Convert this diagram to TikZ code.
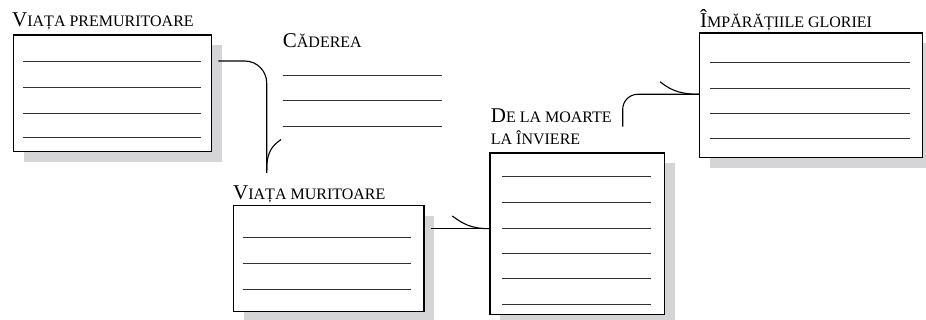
\documentclass[tikz,border=0pt]{standalone}
\usepackage{fontspec}
\setmainfont{Liberation Serif}
\newcommand\bigc[1]{{\fontsize{21}{24}\selectfont #1}}
\newcommand\smc[1]{{\fontsize{16}{20}\selectfont #1}}
\begin{document}
\begin{tikzpicture}[x=1pt,y=-1pt,
  box/.style={draw=black,line width=1.3pt,fill=white,inner sep=0pt,anchor=north west},
  rule/.style={draw=black!80,line width=0.9pt},
  lbl/.style={anchor=base west,inner sep=0pt},
  conn/.style={draw=black,line width=1.1pt},
  barb/.style={draw=black,line width=1.1pt}]
\definecolor{shadowgray}{RGB}{213,213,215}
\useasboundingbox (0,0) rectangle (926,320);
% shadows
\fill[shadowgray] (23.7,45.3) rectangle (222,162);
\fill[shadowgray] (243.7,216) rectangle (434.3,321.7);
\fill[shadowgray] (500.3,163.3) rectangle (675,325);
\fill[shadowgray] (710,43.3) rectangle (932.7,167.7);
% boxes
\node[box,minimum width=198.3pt,minimum height=116.7pt] (b1) at (12.7,34.3) {};
\node[box,minimum width=190.6pt,minimum height=105.7pt] (b2) at (232.7,205) {};
\node[box,minimum width=174.7pt,minimum height=161.7pt] (b3) at (489.3,152.3) {};
\node[box,minimum width=222.7pt,minimum height=124.4pt] (b4) at (699,32.3) {};
% rules in boxes
\foreach \y in {61,87,113,137} \draw[rule] (23,\y) -- (201,\y);
\foreach \y in {237.7,263.7,289} \draw[rule] (242.7,\y) -- (411,\y);
\foreach \y in {176.7,202.7,228.3,253.3,278.7,304.3} \draw[rule] (502.3,\y) -- (651,\y);
\foreach \y in {62.3,88.3,113.7,138.3} \draw[rule] (710,\y) -- (910,\y);
\foreach \y in {75,100.7,126} \draw[rule] (282.7,\y) -- (441.7,\y);
% labels
\node[lbl] (l1) at (12,27) {\bigc{V}\smc{IAȚA PREMURITOARE}};
\node[lbl] (l0) at (282.7,47.7) {\bigc{C}\smc{ĂDEREA}};
\node[lbl] (l2) at (233,200) {\bigc{V}\smc{IAȚA MURITOARE}};
\node[lbl] (l3a) at (490.7,122.7) {\bigc{D}\smc{E LA MOARTE}};
\node[lbl] (l3b) at (490.7,144.3) {\smc{LA ÎNVIERE}};
\node[lbl] (l4) at (700,27.3) {\bigc{Î}\smc{MPĂRĂȚIILE GLORIEI}};
% connectors
\coordinate (c1s) at ([xshift=6pt]b1.east |- 0,61);
\coordinate (c1e) at (266.7,173);
\draw[conn,rounded corners=22pt] (c1s) -- (c1e |- c1s) -- (c1e);
\draw[barb] (c1e) ++(0,-3) .. controls (266.7,152) and (272,146) .. (281,139.5);
\coordinate (c2s) at ([xshift=6pt]b2.east |- 0,228.7);
\coordinate (c2e) at (b3.west |- c2s);
\draw[conn] (c2s) -- (c2e);
\draw[barb] (c2e) .. controls (470,228.7) and (462,223) .. (452.3,216);
\coordinate (c3s) at (622.7,126.7);
\coordinate (c3e) at (b4.west |- 0,94.3);
\draw[conn,rounded corners=15pt] (c3s) -- (c3s |- c3e) -- (c3e);
\draw[barb] (c3e) .. controls (677,94.3) and (668,88) .. (660,81.7);
\end{tikzpicture}
\end{document}
